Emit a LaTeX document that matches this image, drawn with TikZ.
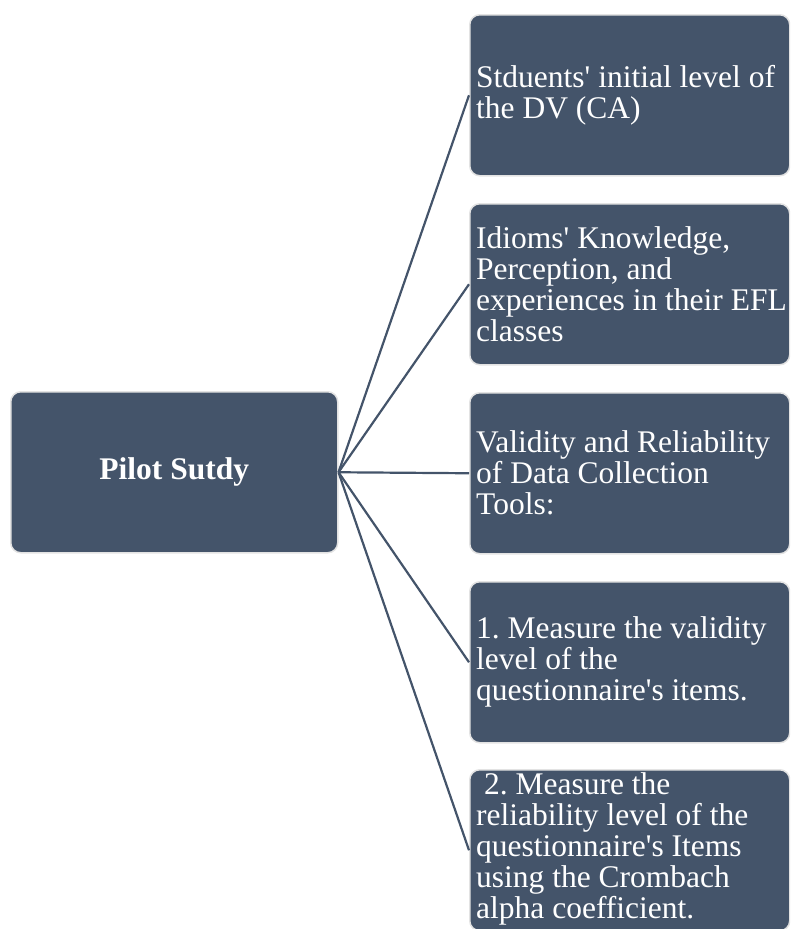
\documentclass[tikz,border=0pt]{standalone}
\usepackage{fontspec}
\setmainfont{Liberation Serif}
\definecolor{boxfill}{HTML}{44546A}
\definecolor{boxedge}{HTML}{E3E3E3}
\newcommand{\apo}{\textquotesingle}
\frenchspacing
\begin{document}
\begin{tikzpicture}[x=1pt,y=-1pt,
  box/.style={draw=boxedge,line width=1.5pt,fill=boxfill,rounded corners=10pt,
    minimum width=320pt,minimum height=161pt,inner sep=0pt,anchor=north west},
  lbl/.style={text=white,font=\fontsize{31.5}{31}\selectfont,align=left,anchor=west,inner sep=0pt},
  link/.style={draw=boxfill,line width=2.2pt}]
\useasboundingbox (0,0) rectangle (790,929);
\clip (0,0) rectangle (790,929);
\node[box,minimum width=327pt] (p) at (10,391) {};
\node[text=white,font=\fontsize{31.5}{31}\selectfont\bfseries] (pt) at (p.center) {Pilot Sutdy};
\foreach \i/\y in {1/14,2/203,3/392,4/581,5/769}{
  \node[box] (b\i) at (469,\y) {};
}
\node[lbl] (t1) at ([xshift=7pt]b1.west) {Stduents\apo{} initial level of\\the DV (CA)};
\node[lbl] (t2) at ([xshift=7pt]b2.west) {Idioms\apo{} Knowledge,\\Perception, and\\experiences in their EFL\\classes};
\node[lbl] (t3) at ([xshift=7pt]b3.west) {Validity and Reliability\\of Data Collection\\Tools:};
\node[lbl] (t4) at ([xshift=7pt]b4.west) {1. Measure the validity\\level of the\\questionnaire\apo{}s items.};
\node[lbl] (t5) at ([xshift=7pt,yshift=1pt]b5.west) {\ 2. Measure the\\reliability level of the\\questionnaire\apo{}s Items\\using the Crombach\\alpha coefficient.};
\foreach \i in {1,...,5}{
  \draw[link] (p.east) -- (b\i.west);
}
\end{tikzpicture}
\end{document}
